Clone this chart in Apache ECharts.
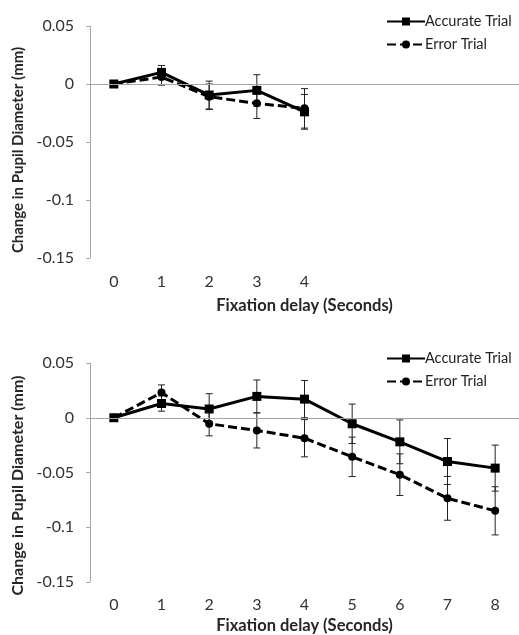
<!DOCTYPE html>
<html>
<head>
<meta charset="utf-8">
<script src="https://cdn.jsdelivr.net/npm/echarts@6/dist/echarts.min.js"></script>
<style>
  html, body { margin: 0; padding: 0; background: #fff; }
  #chart { width: 519px; height: 635px; }
</style>
</head>
<body>
<div id="chart"></div>
<script>
// ---- Data ----
const topCategories = ['0', '1', '2', '3', '4', '', '', '', ''];
const bottomCategories = ['0', '1', '2', '3', '4', '5', '6', '7', '8'];

const topAccurate = [0, 0.010, -0.0095, -0.0055, -0.024];
const topAccurateErr = [0, 0.006, 0.012, 0.0135, 0.015];
const topError = [0, 0.006, -0.011, -0.0167, -0.021];
const topErrorErr = [0, 0.007, 0.011, 0.013, 0.017];

const bottomAccurate = [0, 0.013, 0.008, 0.0195, 0.017, -0.0055, -0.022, -0.040, -0.046];
const bottomAccurateErr = [0, 0.007, 0.014, 0.015, 0.017, 0.018, 0.020, 0.021, 0.021];
const bottomError = [0, 0.023, -0.0055, -0.0116, -0.0187, -0.0357, -0.052, -0.0736, -0.085];
const bottomErrorErr = [0, 0.007, 0.011, 0.016, 0.017, 0.018, 0.019, 0.020, 0.022];

const seriesNames = ['Accurate Trial', 'Error Trial'];
const yMin = -0.15, yMax = 0.05, yStep = 0.05;

// ---- Styles ----
const FONT = 'Lato';
const AXIS_GRAY = '#a6a6a6';
const TEXT = '#333333';

function errData(vals, errs) {
  return vals.map((v, i) => [i, v, errs[i]]);
}

function renderErr(params, api) {
  const x = api.value(0), v = api.value(1), e = api.value(2);
  if (!e) return null;
  const hi = api.coord([x, v + e]);
  const lo = api.coord([x, v - e]);
  const cw = 3.5;
  const st = { stroke: '#222', lineWidth: 1 };
  return {
    type: 'group',
    children: [
      { type: 'line', shape: { x1: hi[0], y1: hi[1], x2: lo[0], y2: lo[1] }, style: st },
      { type: 'line', shape: { x1: hi[0] - cw, y1: hi[1], x2: hi[0] + cw, y2: hi[1] }, style: st },
      { type: 'line', shape: { x1: lo[0] - cw, y1: lo[1], x2: lo[0] + cw, y2: lo[1] }, style: st }
    ]
  };
}

function yLabel(v) {
  if (Math.abs(v) < 1e-9) return '0';
  return String(parseFloat(v.toFixed(2)));
}

function makeX(idx, cats, labelMargin, nameGap) {
  return {
    type: 'category', gridIndex: idx, data: cats,
    boundaryGap: true,
    axisLine: { show: false }, axisTick: { show: false },
    axisLabel: { color: TEXT, fontSize: 16, fontFamily: FONT, margin: labelMargin, interval: 0 },
    name: 'Fixation delay (Seconds)', nameLocation: 'middle', nameGap: nameGap,
    nameTextStyle: { color: '#262626', fontSize: 16.5, fontWeight: 'bold', fontFamily: FONT }
  };
}

function makeY(idx, nameGap, nameSize, shift) {
  return {
    type: 'value', gridIndex: idx, min: yMin, max: yMax, interval: yStep,
    axisLine: { show: true, lineStyle: { color: AXIS_GRAY, width: 1 } },
    axisTick: { show: true, length: 4, lineStyle: { color: AXIS_GRAY } },
    splitLine: { show: false },
    axisLabel: { color: TEXT, fontSize: 16, fontFamily: FONT, margin: 16, formatter: yLabel },
    name: 'Change in Pupil Diameter (mm)', nameLocation: 'middle', nameGap: nameGap,
    nameTextStyle: { color: '#262626', fontSize: nameSize, fontWeight: 'bold', fontFamily: FONT,
      padding: [0, shift, 0, 0] }
  };
}

function lineSeries(name, idx, data, dashed) {
  return {
    name: name, type: 'line', xAxisIndex: idx, yAxisIndex: idx, data: data,
    symbol: dashed ? 'circle' : 'rect', symbolSize: dashed ? 8 : 9,
    itemStyle: { color: '#000' },
    lineStyle: { color: '#000', width: 3, type: dashed ? [9, 4] : 'solid' },
    z: 3, animation: false
  };
}

function errSeries(idx, vals, errs, withZero) {
  const s = {
    type: 'custom', xAxisIndex: idx, yAxisIndex: idx,
    data: errData(vals, errs), renderItem: renderErr,
    encode: { x: 0, y: 1 }, z: 2, silent: true, animation: false
  };
  if (withZero) {
    s.markLine = {
      silent: true, symbol: 'none', animation: false,
      label: { show: false },
      lineStyle: { color: AXIS_GRAY, width: 1, type: 'solid' },
      data: [{ yAxis: 0 }]
    };
  }
  return s;
}

function makeLegend(top) {
  return {
    orient: 'vertical', left: 381, top: top,
    itemWidth: 38, itemHeight: 10, itemGap: 8,
    data: seriesNames,
    textStyle: { color: '#222', fontSize: 14.5, fontFamily: FONT, padding: [0, 0, 0, -5] },
    selectedMode: false
  };
}

const chart = echarts.init(document.getElementById('chart'), null, { renderer: 'canvas' });
chart.setOption({
  backgroundColor: '#fff',
  animation: false,
  legend: [makeLegend(9), makeLegend(346)],
  grid: [
    { left: 90, top: 26, width: 432, height: 232 },
    { left: 90, top: 363, width: 434, height: 219 }
  ],
  xAxis: [makeX(0, topCategories, 16, 39), makeX(1, bottomCategories, 15, 35)],
  yAxis: [makeY(0, 55, 15, 16), makeY(1, 55, 16, 26)],
  series: [
    errSeries(0, topAccurate, topAccurateErr, true),
    errSeries(0, topError, topErrorErr, false),
    lineSeries(seriesNames[0], 0, topAccurate, false),
    lineSeries(seriesNames[1], 0, topError, true),
    errSeries(1, bottomAccurate, bottomAccurateErr, true),
    errSeries(1, bottomError, bottomErrorErr, false),
    lineSeries(seriesNames[0], 1, bottomAccurate, false),
    lineSeries(seriesNames[1], 1, bottomError, true)
  ]
});
</script>
</body>
</html>
